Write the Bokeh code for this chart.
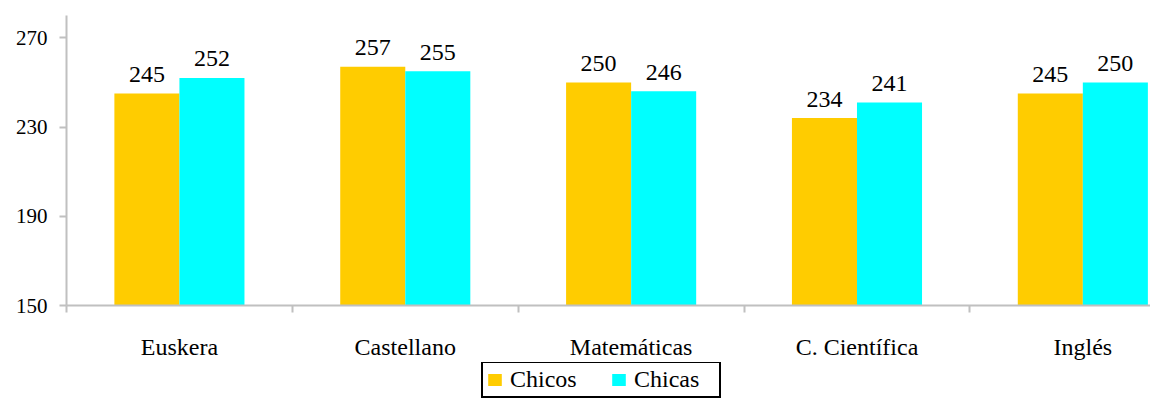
from bokeh.plotting import figure
from bokeh.layouts import column
from bokeh.models import Range1d, FixedTicker, Legend, LegendItem, ColumnDataSource
from bokeh.core.properties import value
from bokeh.embed import file_html
from bokeh.resources import INLINE

categories = ["Euskera", "Castellano", "Matemáticas", "C. Científica", "Inglés"]
chicos = [245, 257, 250, 234, 245]
chicas = [252, 255, 246, 241, 250]
y_ticks = [150, 190, 230, 270]
series_names = ["Chicos", "Chicas"]
colors = ["#FFCC00", "#00FFFF"]

FONT = "Liberation Serif"
AXIS_GRAY = "#C0C0C0"
BAR_W = 0.288

p = figure(width=1150, height=362, output_backend="svg", toolbar_location=None,
           x_range=Range1d(0, 4.7996), y_range=Range1d(150, 280),
           min_border_left=66, min_border_right=0, min_border_top=15,
           min_border_bottom=57)
p.outline_line_color = None
p.xgrid.visible = False
p.ygrid.visible = False
p.background_fill_color = "white"
p.border_fill_color = "white"

centers = [i + 0.5 for i in range(len(categories))]
sources = []
for k, (name, vals, col) in enumerate(zip(series_names, [chicos, chicas], colors)):
    off = (k - 0.5) * BAR_W
    src = ColumnDataSource(dict(x=[c + off for c in centers], top=vals,
                                lab=[str(v) for v in vals]))
    sources.append(src)
    p.vbar(x="x", top="top", bottom=150, width=BAR_W, source=src,
           fill_color=col, line_color=None)
    p.text(x="x", y="top", text="lab", source=src, text_align="center",
           text_baseline="alphabetic", y_offset=-19,
           text_font=value(FONT), text_font_size="24px", text_color="#000000")

# y axis
ya = p.yaxis[0]
ya.ticker = FixedTicker(ticks=y_ticks)
ya.axis_line_color = AXIS_GRAY
ya.axis_line_width = 2
ya.major_tick_line_color = AXIS_GRAY
ya.major_tick_line_width = 2
ya.major_tick_out = 7
ya.major_tick_in = 0
ya.minor_tick_line_color = None
ya.major_label_text_font = FONT
ya.major_label_text_font_size = "21px"
ya.major_label_text_color = "#000000"
ya.major_label_standoff = 12

# x axis
xa = p.xaxis[0]
xa.ticker = FixedTicker(ticks=centers, minor_ticks=list(range(len(categories) + 1)))
xa.major_label_overrides = {c: lab for c, lab in zip(centers, categories)}
xa.axis_line_color = AXIS_GRAY
xa.axis_line_width = 2
xa.major_tick_line_color = None
xa.major_tick_out = 0
xa.major_tick_in = 0
xa.minor_tick_line_color = AXIS_GRAY
xa.minor_tick_line_width = 2
xa.minor_tick_out = 7
xa.minor_tick_in = 0
xa.major_label_text_font = FONT
xa.major_label_text_font_size = "24px"
xa.major_label_text_color = "#000000"
xa.major_label_standoff = 21

# legend strip below the chart (its bars use the same data, far outside this strip's view)
p2 = figure(width=1150, height=37, output_backend="svg", toolbar_location=None,
            x_range=Range1d(0, 4.7996), y_range=Range1d(1000, 1001),
            x_axis_location=None, y_axis_location=None, min_border=0,
            min_border_left=66)
p2.outline_line_color = None
p2.xgrid.visible = False
p2.ygrid.visible = False
proxies = [p2.vbar(x="x", top="top", bottom=150, width=BAR_W, source=src,
                   fill_color=col, line_color=None)
           for src, col in zip(sources, colors)]
legend = Legend(items=[LegendItem(label=n, renderers=[r]) for n, r in zip(series_names, proxies)],
                location=(415, 1), orientation="horizontal",
                glyph_width=17, glyph_height=15, label_standoff=7, spacing=18,
                label_width=82, padding=3, margin=0,
                border_line_color="black", border_line_width=2, border_line_alpha=1,
                background_fill_color="white", background_fill_alpha=1,
                label_text_font=FONT, label_text_font_size="24px",
                label_text_color="#000000")
p2.add_layout(legend, "center")

layout = column(p, p2, spacing=0)
open("out.html", "w").write(file_html(layout, INLINE))
